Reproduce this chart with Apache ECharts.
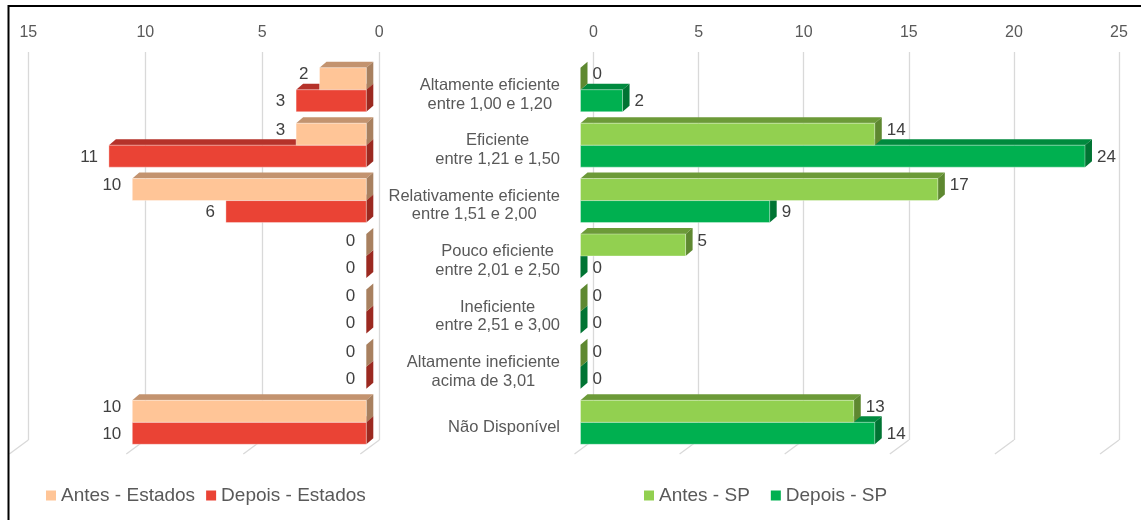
<!DOCTYPE html>
<html>
<head>
<meta charset="utf-8">
<script src="https://cdn.jsdelivr.net/npm/echarts@6/dist/echarts.min.js"></script>
<style>
  html, body { margin: 0; padding: 0; background: #fff; }
  #chart { width: 1141px; height: 520px; }
</style>
</head>
<body>
<div id="chart"></div>
<script>
// Efficiency classes (category axis)
const categories = [
  'Altamente eficiente\nentre 1,00 e 1,20',
  'Eficiente\nentre 1,21 e 1,50',
  'Relativamente eficiente\nentre 1,51 e 2,00',
  'Pouco eficiente\nentre 2,01 e 2,50',
  'Ineficiente\nentre 2,51 e 3,00',
  'Altamente ineficiente\nacima de 3,01',
  'Não Disponível'
];

// Counts per class
const antesEstados  = [2, 3, 10, 0, 0, 0, 10];
const depoisEstados = [3, 11, 6, 0, 0, 0, 10];
const antesSP       = [0, 14, 17, 5, 0, 0, 13];
const depoisSP      = [2, 24, 9, 0, 0, 0, 14];

// Value-axis ticks of each panel
const ticksEstados = [0, 5, 10, 15];
const ticksSP      = [0, 5, 10, 15, 20, 25];

const FONT = "'Liberation Sans', Arial, sans-serif";
const GREY = '#595959';

// 3D look: front faces sit in front of the back wall, depth goes up-right
const DX = -13, DY = 10;         // shift of the front face from the back wall
const DEPTH_X = 7, DEPTH_Y = -6; // depth of the top and side faces
const BAR_H = 22;

function bar3d(colors, upper, side) {
  return function (params, api) {
    const v = api.value(0), cat = api.value(1);
    const base = api.coord([0, cat]);
    const end = api.coord([v, cat]);
    const cy = base[1] + DY;
    const y0 = upper ? cy - BAR_H : cy;
    const y1 = y0 + BAR_H;
    const xa = base[0] + DX, xb = end[0] + DX;
    const xmin = Math.min(xa, xb), xmax = Math.max(xa, xb);
    const children = [];
    // top face
    children.push({
      type: 'polygon',
      shape: { points: [[xmin, y0], [xmax, y0], [xmax + DEPTH_X, y0 + DEPTH_Y], [xmin + DEPTH_X, y0 + DEPTH_Y]] },
      style: { fill: colors.top }
    });
    // side face
    children.push({
      type: 'polygon',
      shape: { points: [[xmax, y0], [xmax, y1], [xmax + DEPTH_X, y1 + DEPTH_Y], [xmax + DEPTH_X, y0 + DEPTH_Y]] },
      style: { fill: colors.side }
    });
    // front face
    if (xmax - xmin > 0.5) {
      children.push({
        type: 'rect',
        shape: { x: xmin, y: y0, width: xmax - xmin, height: BAR_H },
        style: { fill: colors.front, stroke: 'rgba(255,255,255,0.35)', lineWidth: 1 }
      });
    }
    // value label
    const ly = cy + (upper ? -BAR_H / 2 - 4 : BAR_H / 2 + 1);
    children.push({
      type: 'text',
      style: side === 'left'
        ? { text: String(v), x: xmin - 11, y: ly, align: 'right', verticalAlign: 'middle', fontSize: 17, fontFamily: FONT, fill: '#404040' }
        : { text: String(v), x: xmax + 12, y: ly, align: 'left', verticalAlign: 'middle', fontSize: 17, fontFamily: FONT, fill: '#404040' }
    });
    return { type: 'group', children };
  };
}

// slanted floor segment under each vertical grid line
function floorLine(params, api) {
  const v = api.value(0);
  const p = api.coord([v, categories.length - 1]);
  const half = api.size([0, 1])[1] / 2;
  const y = p[1] + half;
  return {
    type: 'line',
    shape: { x1: p[0], y1: y, x2: p[0] - 19, y2: y + 14 },
    style: { stroke: '#d9d9d9', lineWidth: 1.3 }
  };
}

const toData = arr => arr.map((v, i) => [v, i]);

const colEstAntes  = { front: '#FFC597', top: '#C3936F', side: '#A8805F' };
const colEstDepois = { front: '#EA4335', top: '#B5322A', side: '#9B2920' };
const colSPAntes   = { front: '#92D050', top: '#6C9A38', side: '#5E8830' };
const colSPDepois  = { front: '#00B050', top: '#008A3E', side: '#007433' };

const chart = echarts.init(document.getElementById('chart'));
chart.setOption({
  animation: false,
  backgroundColor: '#fff',
  grid: [
    { left: 28.3, width: 351, top: 52, height: 388 },
    { left: 593.5, width: 525.5, top: 52, height: 388 }
  ],
  xAxis: [
    {
      gridIndex: 0, type: 'value', min: 0, max: 15, interval: 5, inverse: true, position: 'top',
      axisLine: { show: false }, axisTick: { show: false },
      axisLabel: { color: GREY, fontSize: 16, fontFamily: FONT, margin: 11 },
      splitLine: { lineStyle: { color: '#d9d9d9', width: 1.3 } }
    },
    {
      gridIndex: 1, type: 'value', min: 0, max: 25, interval: 5, position: 'top',
      axisLine: { show: false }, axisTick: { show: false },
      axisLabel: { color: GREY, fontSize: 16, fontFamily: FONT, margin: 11 },
      splitLine: { lineStyle: { color: '#d9d9d9', width: 1.3 } }
    }
  ],
  yAxis: [
    {
      gridIndex: 0, type: 'category', data: categories, inverse: true,
      axisLine: { show: false }, axisTick: { show: false }, axisLabel: { show: false }
    },
    {
      gridIndex: 1, type: 'category', data: categories, inverse: true,
      axisLine: { show: false }, axisTick: { show: false },
      axisLabel: {
        margin: 33.5,
        align: 'right',
        padding: [30, 0, 0, 0],
        formatter: v => v.split('\n').map(s => '{c|' + s + '}').join('\n'),
        rich: { c: { align: 'center', fontSize: 16.5, lineHeight: 18.5, color: GREY, fontFamily: FONT } }
      }
    }
  ],
  legend: [
    {
      data: ['Antes - Estados', 'Depois - Estados'],
      left: 46, top: 486, padding: 0, itemWidth: 10, itemHeight: 10, itemGap: 11, icon: 'rect',
      textStyle: { color: GREY, fontSize: 19, fontFamily: FONT }
    },
    {
      data: ['Antes - SP', 'Depois - SP'],
      left: 644, top: 486, padding: 0, itemWidth: 10, itemHeight: 10, itemGap: 21, icon: 'rect',
      textStyle: { color: GREY, fontSize: 19, fontFamily: FONT }
    }
  ],
  graphic: [
    {
      type: 'rect', silent: true, z: 100,
      shape: { x: 8.5, y: 6, width: 1300, height: 1000 },
      style: { fill: 'none', stroke: '#000', lineWidth: 2 }
    }
  ],
  series: [
    { type: 'custom', name: 'floorEstados', xAxisIndex: 0, yAxisIndex: 0, data: ticksEstados.map(v => [v]), renderItem: floorLine, silent: true, clip: false },
    { type: 'custom', name: 'floorSP', xAxisIndex: 1, yAxisIndex: 1, data: ticksSP.map(v => [v]), renderItem: floorLine, silent: true, clip: false },
    { type: 'custom', name: 'Depois - Estados', xAxisIndex: 0, yAxisIndex: 0, itemStyle: { color: colEstDepois.front },
      data: toData(depoisEstados), renderItem: bar3d(colEstDepois, false, 'left'), clip: false },
    { type: 'custom', name: 'Antes - Estados', xAxisIndex: 0, yAxisIndex: 0, itemStyle: { color: colEstAntes.front },
      data: toData(antesEstados), renderItem: bar3d(colEstAntes, true, 'left'), clip: false },
    { type: 'custom', name: 'Depois - SP', xAxisIndex: 1, yAxisIndex: 1, itemStyle: { color: colSPDepois.front },
      data: toData(depoisSP), renderItem: bar3d(colSPDepois, false, 'right'), clip: false },
    { type: 'custom', name: 'Antes - SP', xAxisIndex: 1, yAxisIndex: 1, itemStyle: { color: colSPAntes.front },
      data: toData(antesSP), renderItem: bar3d(colSPAntes, true, 'right'), clip: false }
  ]
});
</script>
</body>
</html>
